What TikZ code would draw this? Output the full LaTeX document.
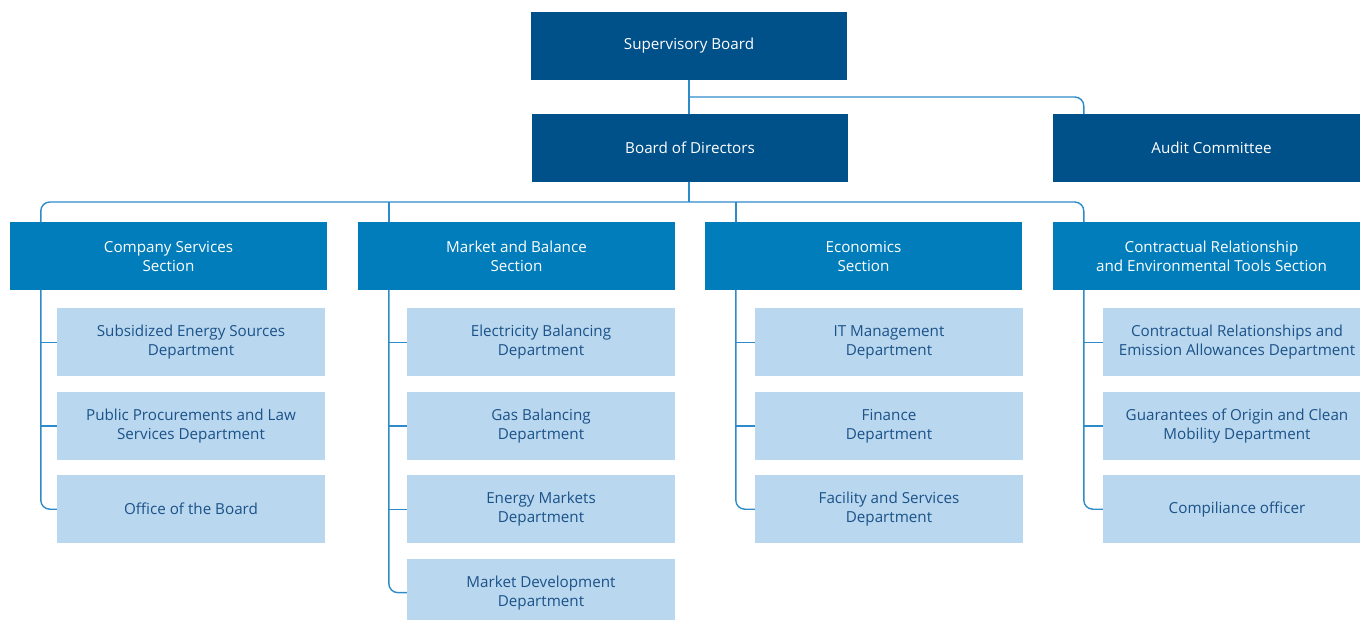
\documentclass[tikz,border=0pt]{standalone}
\usepackage{fontspec}
\setmainfont{Open Sans}
\usetikzlibrary{positioning}

\definecolor{boardblue}{HTML}{00508A}
\definecolor{sectionblue}{HTML}{007DBA}
\definecolor{deptblue}{HTML}{B9D7EE}
\definecolor{depttext}{HTML}{1B5289}
\definecolor{linkblue}{HTML}{2E8BC9}

\tikzset{
  board/.style={fill=boardblue, text=white, minimum width=316pt, minimum height=68pt,
    inner sep=0pt, align=center, font=\fontsize{15.2}{19}\selectfont},
  section/.style={board, fill=sectionblue, minimum width=317pt},
  dept/.style={board, fill=deptblue, text=depttext, minimum width=268pt},
  link/.style={draw=linkblue, line width=1.4pt, rounded corners=9pt},
}

\begin{document}
\begin{tikzpicture}[x=1pt,y=-1pt]

    \useasboundingbox (0,0) rectangle (1360,620);
    \clip (0,0) rectangle (1360,620);

    % Top management
    \node[board] (sb) at (689,46) {Supervisory Board};
    \node[board] (bod) at (690,148) {Board of Directors};
    \node[board, minimum width=317pt] (audit) at (1211.5,148) {Audit Committee};

    % Sections
    \node[section] (cs) at (168.5,256) {Company Services\\Section};
    \node[section] (mb) at (516.5,256) {Market and Balance\\Section};
    \node[section] (ec) at (863.5,256) {Economics\\Section};
    \node[section] (ct) at (1211.5,256) {Contractual Relationship\\and Environmental Tools Section};

    % Departments of the Company Services Section
    \node[dept, below=18pt of cs, xshift=22.5pt] (cs1) {Subsidized Energy Sources\\Department};
    \node[dept, below=15pt of cs1] (cs2) {Public Procurements and Law\\Services Department};
    \node[dept, below=15pt of cs2] (cs3) {Office of the Board};

    % Departments of the Market and Balance Section
    \node[dept, below=18pt of mb, xshift=24.5pt] (mb1) {Electricity Balancing\\Department};
    \node[dept, below=15pt of mb1] (mb2) {Gas Balancing\\Department};
    \node[dept, below=15pt of mb2] (mb3) {Energy Markets\\Department};
    \node[dept, below=15pt of mb3] (mb4) {Market Development\\Department};

    % Departments of the Economics Section
    \node[dept, below=18pt of ec, xshift=25.5pt] (ec1) {IT Management\\Department};
    \node[dept, below=15pt of ec1] (ec2) {Finance\\Department};
    \node[dept, below=15pt of ec2] (ec3) {Facility and Services\\Department};

    % Departments of the Contractual Relationship Section
    \node[dept, below=18pt of ct, xshift=25.5pt] (ct1) {Contractual Relationships and\\Emission Allowances Department};
    \node[dept, below=15pt of ct1] (ct2) {Guarantees of Origin and Clean\\Mobility Department};
    \node[dept, below=15pt of ct2] (ct3) {Compiliance officer};

    % Junctions of the horizontal bus lines
    \coordinate (j1) at (689,97);
    \coordinate (j2) at (689,202);

    % Spine ends, 31pt in from the left edge of each box
    \coordinate (audn) at ([xshift=31pt]audit.north west);
    \foreach \s in {cs, mb, ec, ct} {
      \coordinate (\s n) at ([xshift=31pt]\s.north west);
      \coordinate (\s s) at ([xshift=31pt]\s.south west);
    }

    % Supervisory Board to Board of Directors and Audit Committee
    \draw[link] (sb.south -| j1) -- (bod.north -| j1);
    \draw[link] (j1) -| (audn);

    % Board of Directors to the sections
    \draw[link] (bod.south -| j2) -- (j2);
    \draw[link] (j2) -| (csn);
    \draw[link] (j2) -| (ctn);
    \draw[link] (j2 -| mbn) -- (mbn);
    \draw[link] (j2 -| ecn) -- (ecn);

    % Section spines with branches to the departments
    \draw[link] (css) |- (cs3.west);
    \draw[link] (mbs) |- (mb4.west);
    \draw[link] (ecs) |- (ec3.west);
    \draw[link] (cts) |- (ct3.west);
    \foreach \s/\d in {cs/cs1, cs/cs2, mb/mb1, mb/mb2, mb/mb3, ec/ec1, ec/ec2, ct/ct1, ct/ct2}
      \draw[link] (\s s |- \d.west) -- (\d.west);

\end{tikzpicture}
\end{document}
